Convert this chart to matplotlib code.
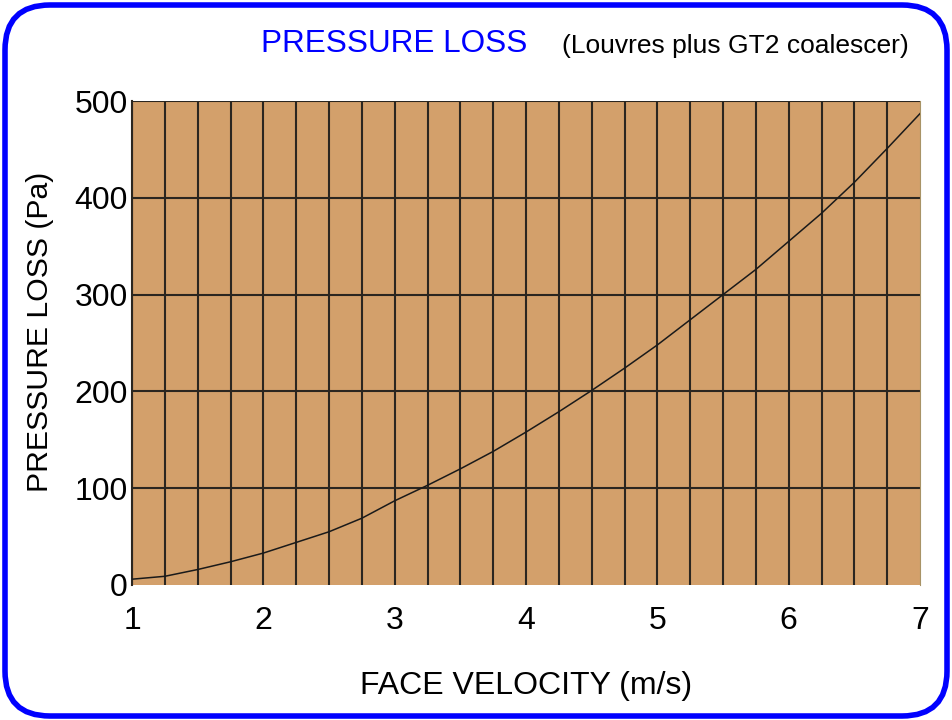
import matplotlib
matplotlib.use("Agg")
import matplotlib.pyplot as plt
from matplotlib.patches import FancyBboxPatch

plt.rcParams['font.family'] = ['Liberation Sans', 'DejaVu Sans']

# data
velocity = [1, 1.25, 1.5, 1.75, 2, 2.25, 2.5, 2.75, 3, 3.25, 3.5, 3.75, 4,
            4.25, 4.5, 4.75, 5, 5.25, 5.5, 5.75, 6, 6.25, 6.5, 6.75, 7]
pressure = [6, 9, 16, 24, 33, 44, 55, 69, 87, 103, 120, 138, 158,
            179, 201, 224, 248, 274, 300, 326, 355, 384, 416, 451, 487]
x_ticks = [1, 2, 3, 4, 5, 6, 7]
y_ticks = [0, 100, 200, 300, 400, 500]

fig = plt.figure(figsize=(9.52, 7.2), dpi=100)
ax = fig.add_axes([0.1387, 0.1875, 0.8277, 0.6722])
ax.set_facecolor('#D3A06B')

# grid: every 0.25 m/s and every 100 Pa
gx = [1 + 0.25 * i for i in range(24)]
for v in gx:
    ax.axvline(v, color='#2b2620', lw=1.5, zorder=1)
for p in y_ticks[1:]:
    ax.axhline(p, color='#2b2620', lw=1.5, zorder=1)

ax.plot(velocity, pressure, color='#1a1a1a', lw=1.1, zorder=3)

ax.set_xlim(1, 7)
ax.set_ylim(0, 500)
ax.set_xticks(x_ticks)
ax.set_yticks(y_ticks)
ax.tick_params(length=0, labelsize=23, colors='black')
ax.tick_params(axis='x', pad=15)
ax.tick_params(axis='y', pad=3)
for s in ['top', 'bottom']:
    ax.spines[s].set_visible(False)
ax.spines['left'].set_color('#2b2620')
ax.spines['left'].set_linewidth(1.5)
ax.spines['right'].set_color('#a89366')
ax.spines['right'].set_linewidth(0.8)

fig.text(0.5525, 0.047, 'FACE VELOCITY (m/s)', ha='center', va='center', fontsize=23)
fig.text(0.0415, 0.539, 'PRESSURE LOSS (Pa)', ha='center', va='center',
         rotation=90, fontsize=21.7)

fig.text(0.274, 0.939, 'PRESSURE LOSS', color='#0000FF', fontsize=22.7,
         ha='left', va='center')
fig.text(0.590, 0.936, '(Louvres plus GT2 coalescer)', color='black',
         fontsize=19, ha='left', va='center')

# rounded blue frame
frame = FancyBboxPatch((0.05, 0.04), 9.42, 7.11,
                       boxstyle='round,pad=0,rounding_size=0.45',
                       transform=fig.dpi_scale_trans, fill=False,
                       edgecolor='#0000FF', lw=4)
fig.patches.append(frame)

fig.savefig('out.png', dpi=100)
